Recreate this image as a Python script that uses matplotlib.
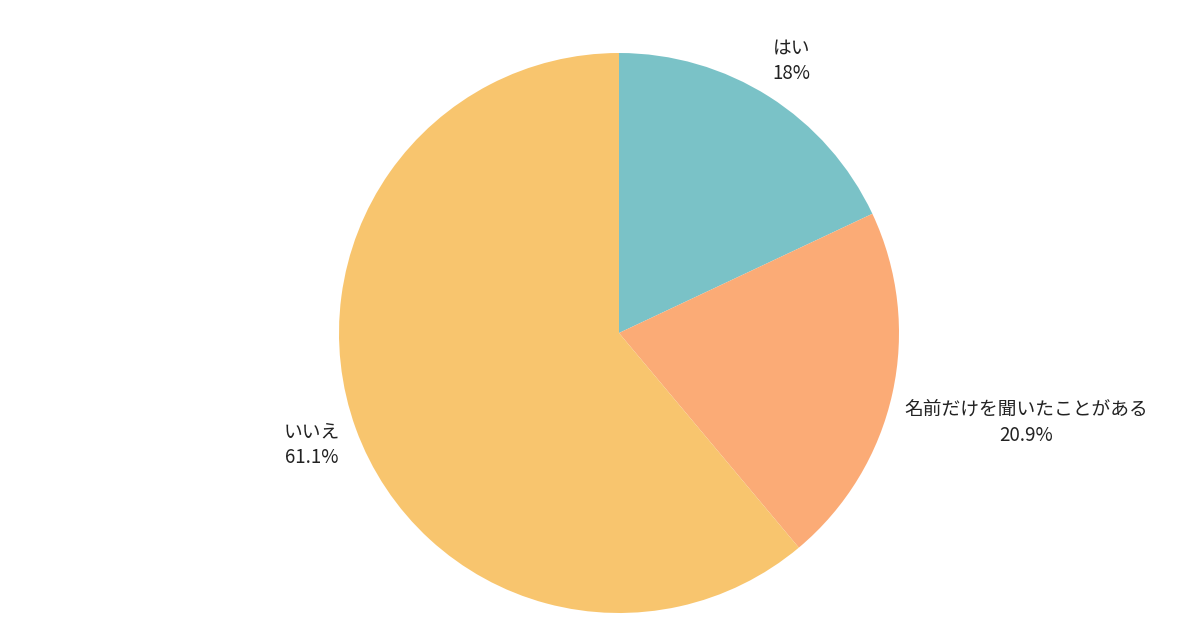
import numpy as np
import matplotlib
matplotlib.use('Agg')
import matplotlib.pyplot as plt

plt.rcParams['font.family'] = ['Noto Sans CJK JP', 'DejaVu Sans']

# データ
labels = ['はい', '名前だけを聞いたことがある', 'いいえ']
values = [18.0, 20.9, 61.1]
colors = ['#7AC2C7', '#FBAB76', '#F8C56E']

W, H = 1200, 630
fig = plt.figure(figsize=(W / 100, H / 100), dpi=100)
ax = fig.add_axes([0, 0, 1, 1])

cx, cy, r = 619, H - 333, 280
wedges, _ = ax.pie(values, colors=colors, startangle=90, counterclock=False,
                   center=(cx, cy), radius=r, wedgeprops=dict(linewidth=0))
ax.set_xlim(0, W)
ax.set_ylim(0, H)
ax.set_aspect('equal')
ax.axis('off')

# ラベル（扇形の中心角の方向、外側に配置）
gap = 12.5
renderer = fig.canvas.get_renderer()
for w, lab, v in zip(wedges, labels, values):
    ang = np.deg2rad((w.theta1 + w.theta2) / 2)
    c, s = np.cos(ang), np.sin(ang)
    t = ax.text(0, 0, f'{lab}\n{v:g}%', ha='center', va='center',
                fontsize=13.5, color='#222222', linespacing=1.3)
    bb = t.get_window_extent(renderer)
    half = abs(c) * bb.width / 2 + abs(s) * bb.height / 2
    d = r + gap + half
    t.set_position((cx + d * c, cy + d * s))

fig.savefig('out.png', dpi=100)
